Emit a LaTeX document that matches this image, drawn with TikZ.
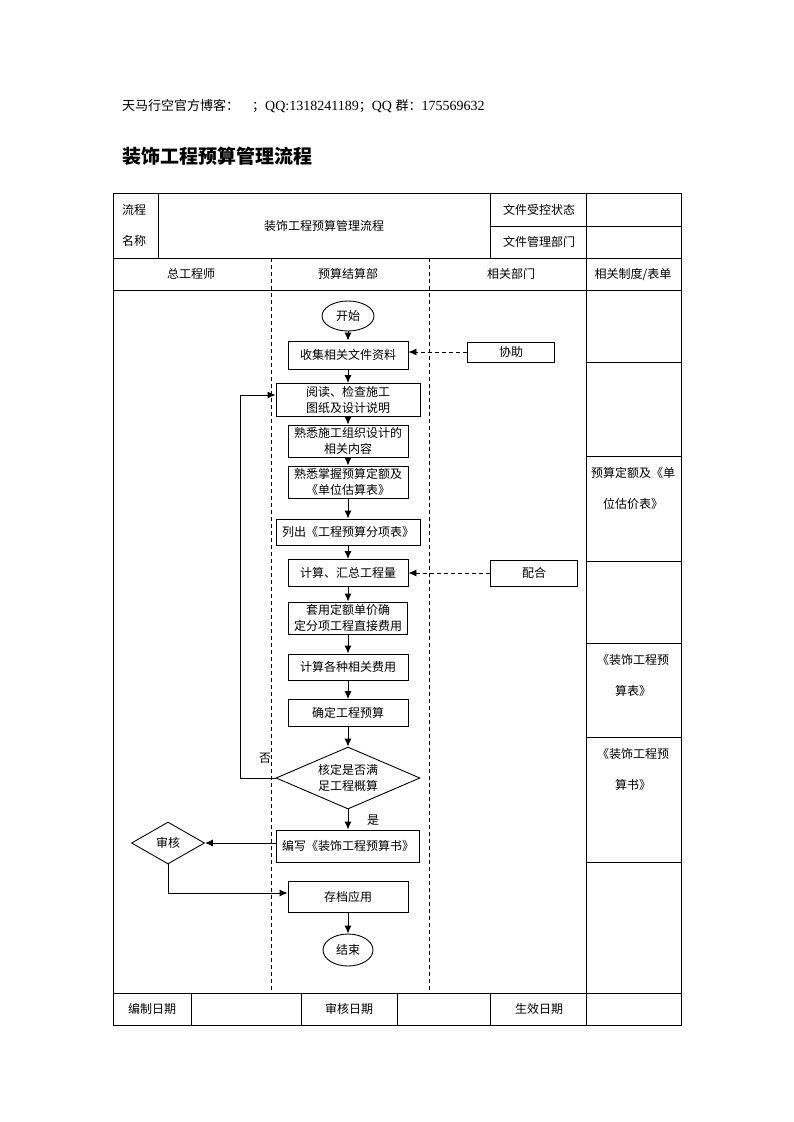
\documentclass[tikz,border=0pt]{standalone}
\usepackage{fontspec}
\setmainfont{Liberation Serif}
\newfontfamily\cjk{Noto Sans CJK SC}
\usetikzlibrary{shapes.geometric,arrows.meta,positioning}

\begin{document}
\begin{tikzpicture}[x=1pt,y=-1pt,
  cell/.style={inner sep=0pt,font={\cjk\fontsize{12}{16}\selectfont}},
  box/.style={draw,line width=0.9pt,inner sep=0pt,align=center,font={\cjk\fontsize{12}{16}\selectfont}},
  term/.style={box,ellipse},
  decision/.style={box,diamond,aspect=2.3},
  arr/.style={-{Latex[length=8pt,width=7pt]},line width=0.9pt},
  link/.style={arr,dash pattern=on 4pt off 3pt}]
\useasboundingbox (0,0) rectangle (793,1122);

\node (blog) at (122,106) [anchor=west,inner sep=0pt,font=\fontsize{14}{16}\selectfont] {{\cjk\fontsize{13}{16}\selectfont 天马行空官方博客：\quad；}QQ:1318241189{\cjk\fontsize{13}{16}\selectfont ；}QQ {\cjk\fontsize{13}{16}\selectfont 群：}175569632};
\node (title) at (122,156) [anchor=west,inner sep=0pt,font={\cjk\bfseries\fontsize{19}{22}\selectfont}] {装饰工程预算管理流程};

\draw[line width=1pt] (113,193) rectangle (681,1025);
\foreach \y in {258,290,993} {
\draw[line width=1pt] (113,\y) -- (681,\y);
}
\foreach \x in {158,490,586} {
\draw[line width=1pt] (\x,193) -- (\x,258);
}
\draw[line width=1pt] (490,226) -- (681,226);
\draw[line width=1pt] (586,258) -- (586,1025);
\foreach \y in {362,456,561,643,737,862} {
\draw[line width=1pt] (586,\y) -- (681,\y);
}
\foreach \x in {191,301,397,490} {
\draw[line width=1pt] (\x,993) -- (\x,1025);
}
\foreach \x in {271,429} {
\draw[line width=0.9pt,dash pattern=on 4pt off 3pt] (\x,258) -- (\x,993);
}

\node (n0) at (134,210) [cell] {流程};
\node (n1) at (134,241) [cell] {名称};
\node (n2) at (324,226) [cell] {装饰工程预算管理流程};
\node (n3) at (539,210) [cell] {文件受控状态};
\node (n4) at (539,242) [cell] {文件管理部门};
\node (h0) at (191,274) [cell] {总工程师};
\node (h1) at (348,274) [cell] {预算结算部};
\node (h2) at (511,274) [cell] {相关部门};
\node (h3) at (633,274) [cell] {相关制度/表单};
\node (f0) at (152,1009) [cell] {编制日期};
\node (f1) at (349,1009) [cell] {审核日期};
\node (f2) at (539,1009) [cell] {生效日期};

\node (r0) at (633,488) [cell,align=center,font={\cjk\fontsize{12}{31}\selectfont}] {预算定额及《单\\位估价表》};
\node (r1) at (633,675) [cell,align=center,font={\cjk\fontsize{12}{31}\selectfont}] {《装饰工程预\\算表》};
\node (r2) at (633,769) [cell,align=center,font={\cjk\fontsize{12}{31}\selectfont}] {《装饰工程预\\算书》};

\node (start) at (348,316) [term,minimum width=52,minimum height=30] {开始};
\node (collect) at (348,355) [box,minimum width=120,minimum height=28] {收集相关文件资料};
\node (assist) at (511,352) [box,minimum width=87,minimum height=20] {协助};
\node (read) at (348,400) [box,minimum width=144,minimum height=33] {阅读、检查施工\\图纸及设计说明};
\node (org) at (348,441) [box,minimum width=120,minimum height=32] {熟悉施工组织设计的\\相关内容};
\node (quota) at (348,482) [box,minimum width=120,minimum height=32] {熟悉掌握预算定额及\\《单位估算表》};
\node (list) at (348,532) [box,minimum width=144,minimum height=26] {列出《工程预算分项表》};
\node (sum) at (348,573) [box,minimum width=120,minimum height=27] {计算、汇总工程量};
\node (coop) at (534,573) [box,minimum width=87,minimum height=26] {配合};
\node (direct) at (348,618) [box,minimum width=119,minimum height=32] {套用定额单价确\\定分项工程直接费用};
\node (fees) at (348,667) [box,minimum width=120,minimum height=26] {计算各种相关费用};
\node (budget) at (348,713) [box,minimum width=120,minimum height=27] {确定工程预算};
\node (check) at (348,778) [decision,minimum width=144,minimum height=62] {核定是否满\\足工程概算};
\node (write) at (348,846) [box,minimum width=143,minimum height=32] {编写《装饰工程预算书》};
\node (audit) at (168,843) [decision,aspect=1.75,minimum width=73,minimum height=42] {审核};
\node (archive) at (348,897) [box,minimum width=120,minimum height=31] {存档应用};
\node (end) at (348,950) [term,minimum width=50,minimum height=32] {结束};

\node (no) at (265,758) [cell] {否};
\node (yes) at (373,820) [cell] {是};
\coordinate (back) at (240,778);

\foreach \a/\b in {start/collect,collect/read,read/org,org/quota,quota/list,list/sum,sum/direct,direct/fees,fees/budget,budget/check,check/write,archive/end} {
\draw[arr] (\a) -- (\b);
};
\draw[link] (assist.west) -- (assist.west -| collect.east);
\draw[link] (coop) -- (sum);
\draw[arr] (check.west) -- (back) |- ([yshift=5pt]read.west);
\draw[arr] (write.west |- audit.east) -- (audit.east);
\draw[arr] (audit.south) |- ([yshift=4pt]archive.west);
\end{tikzpicture}
\end{document}
